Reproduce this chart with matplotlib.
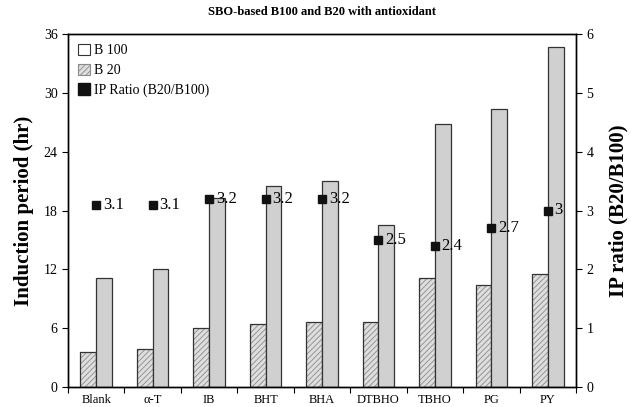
import numpy as np
import matplotlib.pyplot as plt
from matplotlib.patches import Patch

plt.rcParams['font.family'] = ['Liberation Serif', 'DejaVu Serif']
plt.rcParams['hatch.linewidth'] = 0.6

# data
categories = ['Blank', 'α-T', 'IB', 'BHT', 'BHA', 'DTBHO', 'TBHO', 'PG', 'PY']
b100 = [3.6, 3.9, 6.0, 6.4, 6.6, 6.6, 11.1, 10.4, 11.5]
b20 = [11.1, 12.0, 19.3, 20.5, 21.0, 16.5, 26.8, 28.4, 34.7]
ratio = [3.1, 3.1, 3.2, 3.2, 3.2, 2.5, 2.4, 2.7, 3.0]
ratio_labels = ['3.1', '3.1', '3.2', '3.2', '3.2', '2.5', '2.4', '2.7', '3']

fig = plt.figure(figsize=(6.31, 4.07), dpi=100)
ax = fig.add_axes([68 / 631, 20 / 407, 508 / 631, 353 / 407])

x = np.arange(len(categories))
w = 0.28
# hatched fill first, then the dark outline on top
ax.bar(x - w / 2, b100, width=w, facecolor='#dedede', edgecolor='#8a8a8a',
       hatch='//////', linewidth=0)
ax.bar(x - w / 2, b100, width=w, facecolor='none', edgecolor='#333333',
       linewidth=0.9)
ax.bar(x + w / 2, b20, width=w, facecolor='#d0d0d0', edgecolor='#333333',
       linewidth=0.9)

ax.set_xlim(-0.5, len(categories) - 0.5)
ax.set_ylim(0, 36)
ax.set_yticks(np.arange(0, 37, 6))
ax.set_xticks(np.arange(-0.5, len(categories), 1))
ax.set_xticklabels([])
ax.set_xticks(x, minor=True)
ax.set_xticklabels(categories, minor=True, fontsize=9)
ax.tick_params(axis='x', which='minor', length=0, pad=5)
ax.tick_params(axis='x', which='major', direction='out', length=4)
ax.tick_params(axis='y', direction='out', length=4, labelsize=10)
ax.set_ylabel('Induction period (hr)', fontsize=15, fontweight='bold', labelpad=7)
ax.set_title('SBO-based B100 and B20 with antioxidant', fontsize=9,
             fontweight='bold', pad=14)

ax2 = ax.twinx()
ax2.set_ylim(0, 6)
ax2.set_yticks(np.arange(0, 7, 1))
ax2.tick_params(axis='y', direction='out', length=4, labelsize=10)
ax2.plot(x, ratio, 's', color='#111111', markersize=6)
for xi, r, lab in zip(x, ratio, ratio_labels):
    ax2.text(xi + 0.12, r, lab, fontsize=12, va='center', ha='left')
ax2.set_ylabel('IP ratio (B20/B100)', fontsize=15, fontweight='bold', labelpad=11)

for a in (ax, ax2):
    for s in a.spines.values():
        s.set_linewidth(1.0)

handles = [Patch(facecolor='white', edgecolor='#333333', linewidth=0.8),
           Patch(facecolor='#dedede', edgecolor='#8a8a8a', hatch='//////', linewidth=0.8),
           Patch(facecolor='#111111', edgecolor='#111111')]
ax.legend(handles, ['B 100', 'B 20', 'IP Ratio (B20/B100)'], loc='upper left',
          frameon=False, fontsize=10, handlelength=0.9, handleheight=0.9,
          handletextpad=0.25, labelspacing=0.45, borderaxespad=0.3)

fig.savefig('out.png', dpi=100)
